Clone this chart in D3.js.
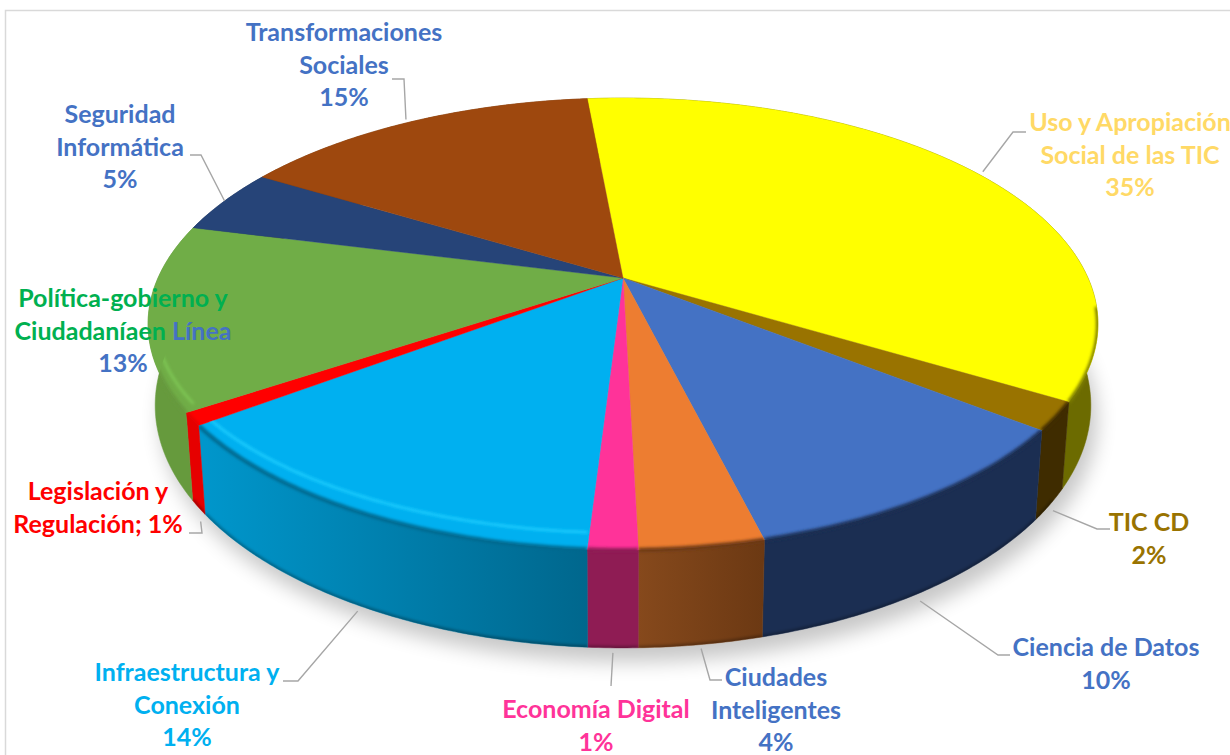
<!DOCTYPE html>
<html>
<head>
<meta charset="utf-8">
<script src="https://cdn.jsdelivr.net/npm/d3@7"></script>
<style>
  html, body { margin: 0; padding: 0; background: #fff; overflow: hidden; }
  text { font-family: Lato, "Open Sans", sans-serif; font-weight: 700; font-size: 25px; text-anchor: middle; }
</style>
</head>
<body>
<div id="chart"></div>
<script>
var categories = ["Uso y Apropiación Social de las TIC", "TIC CD", "Ciencia de Datos", "Ciudades Inteligentes",
    "Economía Digital", "Infraestructura y Conexión", "Legislación y Regulación", "Política-gobierno y Ciudadanía en Línea",
    "Seguridad Informática", "Transformaciones Sociales"];
var values = [35.0, 2.0, 10.5, 3.5, 1.4, 13.8, 0.9, 13.2, 4.7, 14.9];
var percentLabels = ["35%", "2%", "10%", "4%", "1%", "14%", "1%", "13%", "5%", "15%"];

// label lines, each line is a list of [text, colour] runs
var labelLines = [
    [[["Uso y Apropiación", "#ffd966"]], [["Social de las TIC", "#ffd966"]], [[percentLabels[0], "#ffd966"]]],
    [[["TIC CD", "#997300"]], [[percentLabels[1], "#997300"]]],
    [[["Ciencia de Datos", "#4472c4"]], [[percentLabels[2], "#4472c4"]]],
    [[["Ciudades", "#4472c4"]], [["Inteligentes", "#4472c4"]], [[percentLabels[3], "#4472c4"]]],
    [[["Economía Digital", "#ff3399"]], [[percentLabels[4], "#ff3399"]]],
    [[["Infraestructura y", "#00b0f0"]], [["Conexión", "#00b0f0"]], [[percentLabels[5], "#00b0f0"]]],
    [[["Legislación y", "#ff0000"]], [["Regulación; " + percentLabels[6], "#ff0000"]]],
    [[["Política-gobierno y", "#00b050"]], [["Ciudadaníaen", "#00b050"], [" Línea", "#4472c4"]], [[percentLabels[7], "#4472c4"]]],
    [[["Seguridad", "#4472c4"]], [["Informática", "#4472c4"]], [[percentLabels[8], "#4472c4"]]],
    [[["Transformaciones", "#4472c4"]], [["Sociales", "#4472c4"]], [[percentLabels[9], "#4472c4"]]]
];

// slice styles
var topColors  = ["#ffff00", "#997300", "#4472c4", "#ed7d31", "#ff3399", "#00b0f0", "#ff0000", "#70ad47", "#264478", "#9e480e"];
var wallLeft   = ["#6c6b00", "#3f2c00", "#1b2e52", "#86491c", "#8f1c54", "#0096cb", "#e60000", "#5f9139", "#1c3358", "#763608"];
var wallRight  = ["#7d7d00", "#3f2c00", "#1b2e52", "#6c3913", "#8f1c54", "#00678d", "#e60000", "#669a3d", "#1c3358", "#763608"];
var highlights = [null, null, null, null, null, "#1fcfff", null, "#7fc855", null, null];

// label placement: centre x, first baseline
var labelX = [1130, 1149, 1106, 776, 596, 187, 98, 123, 120, 344];
var labelY = [131, 531, 656, 686, 718, 681, 500, 307, 123, 41];
var lineStep = 32.5;

// leader lines: elbow, end, rim used (0 top, 1 bottom) and gap off the rim
var leaders = [
    {i: 0, pts: [[1013, 132], [1026, 132]], rim: 0, gap: [5, -2]},
    {i: 1, pts: [[1097, 529], [1110, 529]], rim: 1, gap: [3, 6]},
    {i: 2, pts: [[998, 655], [1010, 655]], rim: 1, gap: [-4, 10]},
    {i: 3, pts: [[710, 680], [722, 680]], rim: 1, gap: [0, 4]},
    {i: 4, pts: [[611, 686]], rim: 1, gap: [0, 5]},
    {i: 5, pts: [[298, 681], [283, 681]], rim: 1, gap: [0, 6]},
    {i: 6, pts: [[202, 533], [189, 533]], rim: 1, gap: [2, 14]},
    {i: 8, pts: [[201, 155], [190, 155]], rim: 0, gap: [0, 0]},
    {i: 9, pts: [[404, 79], [392, 79]], rim: 0, gap: [-6, -2]}
];

var width = 1230, height = 755;

// pie geometry: a tilted disc seen in perspective
var cx = 623, cy = 278, radiusX = 465, radiusY = 216.6, persp = 0.2036, depth = 78, bottomShrink = 0.985;
var startDeg = -5.3;

var x = d3.scaleLinear().domain([-1, 1]).range([cx - radiusX, cx + radiusX]);
var y = d3.scaleLinear().domain([-1, 1]).range([cy - radiusY, cy + radiusY]);

function project(angle, r, z) {
    var px = r * Math.sin(angle), py = -r * Math.cos(angle), w = 1 - persp * py;
    var s = z ? bottomShrink : 1;
    return [x(px / w * s), y(py / w) + z * depth / w];
}

function arcAngles(a0, a1) {
    var n = Math.max(2, Math.ceil((a1 - a0) / 0.01));
    return d3.range(n + 1).map(function(k) { return a0 + (a1 - a0) * k / n; });
}

// only the part of the rim that faces the viewer gets the edge shading
function frontAngles(a0, a1, limit) {
    return arcAngles(a0, a1).filter(function(a) { return -Math.cos(a) > limit; });
}

var line = d3.line();

var svg = d3.select("#chart").append("svg")
    .attr("width", width)
    .attr("height", height)
    .style("display", "block");

var defs = svg.append("defs");
defs.append("filter").attr("id", "soft").attr("x", "-20%").attr("y", "-20%").attr("width", "140%").attr("height", "140%")
    .append("feGaussianBlur").attr("stdDeviation", 10);
defs.append("filter").attr("id", "seam").attr("filterUnits", "userSpaceOnUse")
    .attr("x", 0).attr("y", 0).attr("width", width).attr("height", height)
    .append("feGaussianBlur").attr("stdDeviation", 1.8);

// chart frame, only top and left are visible in the picture
svg.append("path")
    .attr("d", "M5.5," + height + "V10.5H" + width)
    .attr("fill", "none")
    .attr("stroke", "#d9d9d9")
    .attr("stroke-width", 1.5);

var pie = d3.pie().sort(null)
    .startAngle(startDeg * Math.PI / 180)
    .endAngle(startDeg * Math.PI / 180 + 2 * Math.PI);
var slices = pie(values);

// shadow under the disc
var full = arcAngles(0, 2 * Math.PI);
svg.append("path")
    .attr("d", line(full.map(function(a) { var p = project(a, 1, 1); return [p[0] + 6, p[1] + 14]; })) + "Z")
    .attr("fill", "#000")
    .attr("opacity", 0.22)
    .attr("filter", "url(#soft)");

function wallPath(d) {
    var as = arcAngles(d.startAngle, d.endAngle);
    var pts = as.map(function(a) { return project(a, 1, 0); })
        .concat(as.slice().reverse().map(function(a) { return project(a, 1, 1); }));
    return line(pts) + "Z";
}
function topPath(d) {
    var as = arcAngles(d.startAngle, d.endAngle);
    return line([[cx, cy]].concat(as.map(function(a) { return project(a, 1, 0); }))) + "Z";
}

// gradients and clip for each slice
slices.forEach(function(d, i) {
    var g = defs.append("linearGradient").attr("id", "wall" + i)
        .attr("gradientUnits", "userSpaceOnUse")
        .attr("x1", project(d.startAngle, 1, 1)[0]).attr("x2", project(d.endAngle, 1, 1)[0])
        .attr("y1", 0).attr("y2", 0);
    // angles run clockwise, so on the front the start of a slice is its right side
    g.append("stop").attr("offset", 0).attr("stop-color", wallRight[i]);
    g.append("stop").attr("offset", 1).attr("stop-color", wallLeft[i]);
    var c = defs.append("clipPath").attr("id", "clip" + i);
    c.append("path").attr("d", wallPath(d));
    c.append("path").attr("d", topPath(d));
});

// walls first, the top faces hide the back part
svg.append("g").selectAll("path").data(slices).enter().append("path")
    .attr("d", wallPath)
    .attr("fill", function(d, i) { return "url(#wall" + i + ")"; })
    .attr("stroke", function(d, i) { return "url(#wall" + i + ")"; })
    .attr("stroke-width", 0.5);

// dark lip along the bottom edge, front part only
svg.append("g").selectAll("path").data(slices).enter().append("path")
    .attr("clip-path", function(d, i) { return "url(#clip" + i + ")"; })
    .attr("d", function(d) {
        var as = frontAngles(d.startAngle, d.endAngle, 0.55);
        return as.length > 1 ? line(as.map(function(a) { return project(a, 1, 1); })) : null;
    })
    .attr("fill", "none")
    .attr("stroke", "#000")
    .attr("stroke-opacity", 0.3)
    .attr("stroke-width", 4)
    .attr("filter", "url(#seam)");

svg.append("g").selectAll("path").data(slices).enter().append("path")
    .attr("d", topPath)
    .attr("fill", function(d, i) { return topColors[i]; })
    .attr("stroke", function(d, i) { return topColors[i]; })
    .attr("stroke-width", 0.4);

// soft edge between top face and wall, not on the back of the disc
svg.append("g").selectAll("path").data(slices).enter().append("path")
    .attr("clip-path", function(d, i) { return "url(#clip" + i + ")"; })
    .attr("d", function(d) {
        var as = frontAngles(d.startAngle, d.endAngle, 0.12);
        return as.length > 1 ? line(as.map(function(a) { return project(a, 1, 0); })) : null;
    })
    .attr("fill", "none")
    .attr("stroke", function(d, i) { return wallRight[i]; })
    .attr("stroke-width", 4)
    .attr("filter", "url(#seam)");

// bevel highlight a little inside the rim
svg.append("g").selectAll("path").data(slices.filter(function(d, i) { return highlights[i]; })).enter().append("path")
    .attr("clip-path", function(d) { return "url(#clip" + d.index + ")"; })
    .attr("d", function(d) {
        return line(frontAngles(d.startAngle, d.endAngle, -0.05).map(function(a) {
            var p = project(a, 0.985, 0);
            return [p[0], p[1] + 12 * Math.cos(a)];
        }));
    })
    .attr("fill", "none")
    .attr("stroke", function(d) { return highlights[d.index]; })
    .attr("stroke-width", 2.5)
    .attr("filter", "url(#seam)");

// leader lines
svg.append("g").selectAll("path").data(leaders).enter().append("path")
    .attr("d", function(l) {
        var d = slices[l.i], mid = (d.startAngle + d.endAngle) / 2;
        var p = project(mid, 1, l.rim);
        return line([[p[0] + l.gap[0], p[1] + l.gap[1]]].concat(l.pts));
    })
    .attr("fill", "none")
    .attr("stroke", "#a6a6a6")
    .attr("stroke-width", 1.4);

// labels
var labels = svg.append("g").selectAll("text.line")
    .data(labelLines.flatMap(function(lines, i) {
        return lines.map(function(runs, k) { return {runs: runs, x: labelX[i], y: labelY[i] + k * lineStep}; });
    }))
    .enter().append("text")
    .attr("x", function(d) { return d.x; })
    .attr("y", function(d) { return d.y; });
labels.selectAll("tspan").data(function(d) { return d.runs; }).enter().append("tspan")
    .attr("fill", function(r) { return r[1]; })
    .style("white-space", "pre")
    .text(function(r) { return r[0]; });
</script>
</body>
</html>
